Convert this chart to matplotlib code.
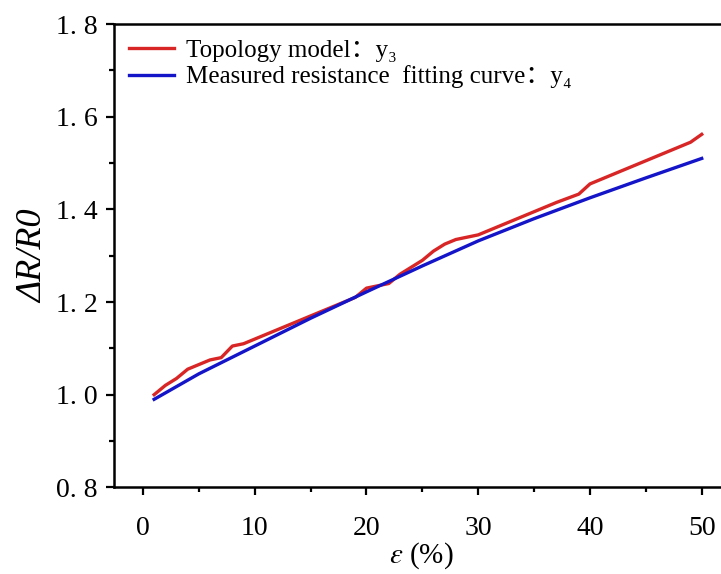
import matplotlib
matplotlib.use('Agg')
import matplotlib.pyplot as plt
import numpy as np
from matplotlib.ticker import MultipleLocator, FuncFormatter

# strain (%) and normalised resistance
strain_y3 = np.arange(1, 51)
y3 = [1.000, 1.020, 1.035, 1.055, 1.065, 1.075, 1.080, 1.105, 1.110, 1.120,
      1.130, 1.140, 1.150, 1.160, 1.170, 1.180, 1.190, 1.200, 1.210, 1.230,
      1.235, 1.240, 1.260, 1.275, 1.290, 1.310, 1.325, 1.335, 1.340, 1.345,
      1.355, 1.365, 1.375, 1.385, 1.395, 1.405, 1.415, 1.424, 1.433, 1.455,
      1.465, 1.475, 1.485, 1.495, 1.505, 1.515, 1.525, 1.535, 1.545, 1.562]

strain_y4 = [1, 5, 10, 15, 20, 25, 30, 35, 40, 45, 50]
y4 = [0.990, 1.045, 1.105, 1.165, 1.222, 1.278, 1.332, 1.380, 1.425, 1.468, 1.510]

label_y3 = 'Topology model：y₃'
label_y4 = 'Measured resistance  fitting curve：y₄'

fams = ['Liberation Serif', 'DejaVu Serif', 'Noto Sans CJK SC']
plt.rcParams['mathtext.fontset'] = 'stix'

fig = plt.figure(figsize=(7.21, 5.74), dpi=100)
ax = fig.add_axes([0.158, 0.151, 0.854, 0.807])

ax.plot(strain_y3, y3, color='#d82626', lw=2.4, label=label_y3)
ax.plot(strain_y4, y4, color='#1414c8', lw=2.4, label=label_y4)

ax.set_xlim(-2.6, 52.5)
ax.set_ylim(0.8, 1.8)
ax.xaxis.set_major_locator(MultipleLocator(10))
ax.xaxis.set_minor_locator(MultipleLocator(5))
ax.yaxis.set_major_locator(MultipleLocator(0.2))
ax.yaxis.set_minor_locator(MultipleLocator(0.1))
ax.yaxis.set_major_formatter(FuncFormatter(lambda v, p: '{:.1f}'.format(v).replace('.', '. ')))

ax.spines['right'].set_visible(False)
for s in ['left', 'bottom', 'top']:
    ax.spines[s].set_linewidth(1.8)
ax.tick_params(which='major', direction='out', length=6, width=1.6, labelsize=20)
ax.tick_params(which='minor', direction='out', length=3.5, width=1.6)
ax.tick_params(axis='x', which='major', pad=15)
ax.tick_params(axis='y', which='major', pad=6)
for t in ax.get_xticklabels() + ax.get_yticklabels():
    t.set_family(fams)

ax.set_ylabel('ΔR/R0', fontsize=26, family=fams, style='italic', labelpad=4)
ax.set_xlabel(r'$\varepsilon$ (%)', fontsize=21, family='Liberation Serif', labelpad=-1)

leg = ax.legend(loc='upper left', frameon=False, prop={'family': fams, 'size': 18},
                handlelength=1.8, handletextpad=0.5, labelspacing=0.15,
                borderaxespad=0.2, bbox_to_anchor=(0.0, 1.0))

fig.savefig('out.png', dpi=100)
